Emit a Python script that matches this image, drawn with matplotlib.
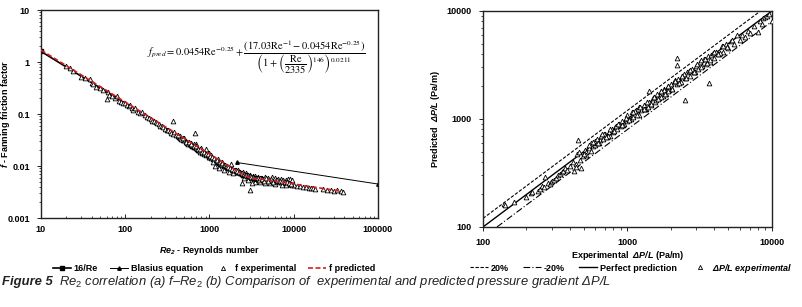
import matplotlib
matplotlib.use('Agg')
import matplotlib.pyplot as plt
from matplotlib.lines import Line2D

plt.rcParams['font.family'] = ['Liberation Sans', 'DejaVu Sans']
plt.rcParams['mathtext.fontset'] = 'custom'
plt.rcParams['mathtext.rm'] = 'Liberation Sans'
plt.rcParams['mathtext.it'] = 'Liberation Sans:italic'
plt.rcParams['mathtext.bf'] = 'Liberation Sans:bold'
plt.rcParams['mathtext.bfit'] = 'Liberation Sans:bold:italic'

# ---- panel (a): friction factor vs Re2 ----
lam_re = [10, 2100]
lam_f = [1.6, 0.0076]
blas_re = [2100, 100000]
blas_f = [0.0117, 0.0045]
pred_re = [10, 100, 1000, 2300, 3000, 5000, 8000, 12000, 20000, 35000]
pred_f = [1.70, 0.170, 0.0170, 0.0074, 0.0059, 0.0054, 0.0048, 0.0043, 0.0038, 0.0033]

exp_re = [20, 22, 24, 30, 33, 38, 40, 42, 45, 50, 55, 60, 62, 65, 70, 75, 80, 85, 90, 95,
          100, 105, 110, 115, 120, 125, 130, 140, 150, 160, 170, 180, 190, 200, 210, 220, 230, 240, 250, 260,
          270, 280, 300, 310, 320, 340, 350, 369, 370, 380, 400, 420, 430, 450, 470, 480, 500, 520, 540, 560,
          580, 600, 620, 640, 660, 673, 680, 700, 720, 740, 760, 780, 800, 820, 850, 870, 900, 920, 950, 980,
          1000, 1050, 1100, 1150, 1200, 1250, 1300, 1350, 1400, 1450, 1500, 1550, 1600, 1650, 1700, 1800, 1900, 2000, 2100, 2200,
          2300, 2400, 2500, 2600, 2800, 3000, 3200, 3400, 3600, 3800, 4000, 4300, 4600, 5000, 5400, 5800, 6200, 6600, 7000, 7500,
          8000, 8500, 9000, 9500, 10000, 11000, 12000, 13000, 14000, 15000, 16000, 17000, 18000, 22000, 25000, 28000, 30000, 33000, 36000, 38000,
          2200, 2500, 2700, 3000, 3300, 3500, 3800, 4200, 4500, 5000, 5500, 6000, 6500, 7000, 7500, 8000, 8500, 9000, 9500, 3500,
          4000, 4500, 5200, 6000, 7200, 8200, 2600, 2900, 2430, 3020, 3200, 1150, 1300, 1500, 1700, 1900, 1100, 1800, 900, 700,
          800, 600, 500, 450, 1000, 650, 750, 850, 950, 1050, 1250, 1400, 1600, 2000, 2300, 2800, 3100, 3700, 4100, 4800]
exp_f = [0.82, 0.76, 0.68, 0.52, 0.50, 0.47, 0.40, 0.38, 0.33, 0.31, 0.29, 0.195, 0.27, 0.23, 0.22, 0.20, 0.22, 0.18, 0.17, 0.16,
         0.16, 0.15, 0.14, 0.15, 0.13, 0.12, 0.13, 0.11, 0.105, 0.11, 0.095, 0.088, 0.085, 0.080, 0.074, 0.072, 0.070, 0.066, 0.065, 0.060,
         0.058, 0.056, 0.052, 0.050, 0.049, 0.047, 0.044, 0.073, 0.042, 0.046, 0.039, 0.037, 0.036, 0.034, 0.033, 0.031, 0.031, 0.030, 0.028, 0.027,
         0.027, 0.025, 0.024, 0.024, 0.023, 0.043, 0.023, 0.022, 0.021, 0.020, 0.020, 0.019, 0.020, 0.018, 0.018, 0.017, 0.017, 0.016, 0.016, 0.015,
         0.015, 0.014, 0.0135, 0.013, 0.0125, 0.012, 0.0115, 0.011, 0.0105, 0.011, 0.0102, 0.0098, 0.0095, 0.0092, 0.009, 0.0086, 0.0082, 0.008, 0.0078, 0.0075,
         0.0072, 0.007, 0.0068, 0.0066, 0.0064, 0.0062, 0.006, 0.0058, 0.0056, 0.0057, 0.0055, 0.0056, 0.0054, 0.0055, 0.0052, 0.0054, 0.0051, 0.005, 0.0049, 0.0048,
         0.0047, 0.0046, 0.0045, 0.0044, 0.0043, 0.0042, 0.0041, 0.004, 0.0039, 0.0038, 0.0037, 0.0037, 0.0036, 0.0036, 0.0035, 0.0034, 0.0033, 0.0034, 0.0033, 0.0032,
         0.0085, 0.0078, 0.0072, 0.0068, 0.0065, 0.0063, 0.0062, 0.006, 0.0062, 0.006, 0.0061, 0.0058, 0.0056, 0.0056, 0.0054, 0.0053, 0.0056, 0.0057, 0.0054, 0.005,
         0.0049, 0.0048, 0.0047, 0.0046, 0.0044, 0.0043, 0.0058, 0.0055, 0.0047, 0.0035, 0.0047, 0.0098, 0.0092, 0.0085, 0.0078, 0.0074, 0.0118, 0.011, 0.021, 0.026,
         0.022, 0.028, 0.035, 0.038, 0.018, 0.026, 0.020, 0.019, 0.017, 0.016, 0.0135, 0.0118, 0.0102, 0.0084, 0.0076, 0.0066, 0.0061, 0.0059, 0.0058, 0.0057]
exp2_re = [420, 460, 490, 530, 570, 610, 650, 690, 730, 770, 810, 860, 910, 960, 1020, 1080, 1120, 1180, 1220, 1280,
           1330, 1380, 1420, 1480, 1530, 1580, 1630, 1680, 1750, 1850, 1950, 2050, 2150, 2250, 2350, 2450, 2550, 2650, 2750, 2850,
           2950, 3050, 3150, 3250, 3350, 3450, 3550, 3650, 3750, 3850, 3950, 4150, 4400, 4700, 4900, 5300, 5600, 6100, 6400, 6800,
           7300, 7800, 8300, 8800, 9300]
exp2_f = [0.040, 0.033, 0.034, 0.029, 0.029, 0.026, 0.024, 0.024, 0.021, 0.021, 0.019, 0.019, 0.017, 0.017, 0.0155, 0.015, 0.014, 0.013, 0.013, 0.012,
          0.012, 0.011, 0.0112, 0.0104, 0.0103, 0.0098, 0.0098, 0.0094, 0.0091, 0.0088, 0.0084, 0.0082, 0.0079, 0.0077, 0.0074, 0.0073, 0.0071, 0.0068, 0.0067, 0.0066,
          0.0064, 0.0063, 0.0062, 0.0061, 0.006, 0.0059, 0.0058, 0.0060, 0.0058, 0.0055, 0.0059, 0.0057, 0.0052, 0.0058, 0.0051, 0.0057, 0.0050, 0.0055, 0.0053, 0.0052,
          0.0051, 0.0050, 0.0049, 0.0047, 0.0046]

# ---- panel (b): predicted vs experimental pressure gradient ----
line_x = [100, 10000]
perfect_y = [100, 10000]
plus_x = [100, 8333]
plus_y = [120, 10000]
minus_x = [125, 10000]
minus_y = [100, 8000]

dp_exp = [140, 142, 165, 200, 215, 220, 240, 250, 255, 265, 270, 280, 290, 295, 300, 310, 320, 330, 340, 350,
          360, 370, 380, 400, 420, 430, 440, 440, 450, 454, 470, 480, 490, 500, 510, 520, 520, 540, 560, 580,
          600, 600, 620, 650, 660, 680, 700, 720, 750, 760, 780, 800, 820, 850, 870, 900, 920, 950, 980, 1000,
          1000, 1050, 1080, 1100, 1150, 1200, 1200, 1250, 1300, 1350, 1400, 1410, 1450, 1500, 1550, 1600, 1650, 1700, 1750, 1800,
          1850, 1900, 1950, 2000, 2050, 2100, 2200, 2200, 2200, 2250, 2300, 2400, 2500, 2500, 2600, 2700, 2800, 2900, 3000, 3100,
          3200, 3300, 3400, 3500, 3665, 3600, 3700, 3800, 4000, 4100, 4300, 4500, 4600, 4800, 5000, 5200, 5500, 5700, 6000, 6200,
          6500, 6800, 7000, 7500, 8000, 8300, 8500, 8700, 9000, 9300, 9500, 10000, 560, 640, 730, 830, 930, 1130, 1320, 1520,
          1720, 1920, 2150, 2350, 2650, 2950, 3250, 3550, 3900, 4400, 620, 690, 790, 880, 1020, 1180, 1380, 1580, 1780, 2450]
dp_pred = [165, 160, 170, 190, 205, 210, 215, 225, 240, 235, 290, 255, 250, 262, 265, 270, 285, 300, 310, 320,
           330, 350, 340, 370, 400, 330, 385, 360, 470, 640, 420, 350, 450, 480, 520, 490, 460, 540, 510, 560,
           620, 570, 600, 640, 700, 650, 720, 680, 760, 700, 800, 760, 850, 800, 900, 860, 950, 900, 1000, 950,
           1100, 1000, 1150, 1050, 1200, 1100, 1300, 1200, 1350, 1250, 1450, 1820, 1350, 1550, 1450, 1700, 1550, 1800, 1650, 1900,
           1700, 2000, 1850, 2100, 1900, 2200, 3670, 3160, 2100, 2350, 2200, 2500, 1500, 2400, 2700, 2500, 2900, 2700, 3100, 2900,
           3400, 3100, 3600, 3200, 2150, 3800, 3400, 3900, 3700, 4200, 4000, 4700, 4200, 5000, 4500, 5300, 5000, 6000, 5400, 6000,
           5800, 6500, 6200, 7200, 6400, 8000, 7500, 8600, 8800, 9000, 9300, 8075, 600, 600, 700, 870, 880, 1180, 1250, 1600,
           1600, 1800, 2300, 2200, 2800, 2700, 3500, 3300, 4100, 4100, 650, 720, 770, 900, 1000, 1250, 1300, 1500, 1850, 2600]
dp2_exp = [460, 500, 540, 580, 630, 670, 710, 760, 810, 860, 910, 970, 1030, 1090, 1160, 1230, 1300, 1370, 1450, 1530,
           1620, 1710, 1810, 1910, 2020, 2130, 2260, 2400, 2550, 2700, 2870, 3050, 3250, 3450, 3700, 3950, 4250, 4550, 4900, 5300]
dp2_pred = [500, 470, 570, 610, 600, 720, 680, 800, 780, 900, 880, 1020, 980, 1150, 1100, 1290, 1230, 1440, 1380, 1600,
            1530, 1800, 1700, 2000, 1900, 2250, 2150, 2500, 2400, 2850, 2700, 3200, 3050, 3600, 3500, 4150, 4000, 4750, 4600, 5400]

fig = plt.figure(figsize=(8.02, 3.07), dpi=100)
ax1 = fig.add_axes([0.0511, 0.2899, 0.4202, 0.6775])
ax2 = fig.add_axes([0.6022, 0.2606, 0.3603, 0.7036])

for ax in (ax1, ax2):
    ax.set_xscale('log')
    ax.set_yscale('log')
    for s in ax.spines.values():
        s.set_linewidth(1.0)
        s.set_color('#222222')
    ax.tick_params(which='major', labelsize=6.5, length=3, width=0.6, pad=5)
    ax.tick_params(which='minor', length=1.8, width=0.5)
ax1.tick_params(axis='x', which='both', direction='in')

tri = dict(ls='none', marker='^', ms=3.4, mfc='white', mec='black', mew=0.6, zorder=3)

# panel (a)
ax1.plot(lam_re, lam_f, color='black', lw=1.2, marker='s', ms=2.5, zorder=2)
ax1.plot(blas_re, blas_f, color='black', lw=0.7, marker='^', ms=2.5, zorder=2)
ax1.plot(exp_re, exp_f, **tri)
ax1.plot(exp2_re, exp2_f, **tri)
ax1.plot(pred_re, pred_f, color='#d42020', lw=1.2, ls=(0, (3, 1.5)), zorder=4)
ax1.set_xlim(10, 100000)
ax1.set_ylim(0.001, 10)
ax1.set_xticks([10, 100, 1000, 10000, 100000])
ax1.set_xticklabels(['10', '100', '1000', '10000', '100000'], fontweight='bold')
ax1.set_yticks([0.001, 0.01, 0.1, 1, 10])
ax1.set_yticklabels(['0.001', '0.01', '0.1', '1', '10'], fontweight='bold')
ax1.set_xlabel(r'$\mathbfit{Re}_\mathbfit{2}$ - Reynolds number', fontsize=6.5, fontweight='bold')
ax1.xaxis.set_label_coords(0.5, -0.125)
ax1.set_ylabel(r'$\mathbfit{f}$ - Fanning friction factor', fontsize=6.5, fontweight='bold')
ax1.yaxis.set_label_coords(-0.085, 0.5)
eq = (r'$f_{pred} = 0.0454\mathrm{Re}^{-0.25} + '
      r'\dfrac{\left(17.03\mathrm{Re}^{-1} - 0.0454\mathrm{Re}^{-0.25}\right)}'
      r'{\left(1+\left(\dfrac{\mathrm{Re}}{2335}\right)^{146}\right)^{0.0211}}$')
ax1.text(0.64, 0.775, eq, transform=ax1.transAxes, fontsize=7.5, ha='center', va='center',
         math_fontfamily='stix')

# panel (b)
ax2.plot(minus_x, minus_y, color='black', lw=0.8, ls=(0, (6, 2, 1, 2)), zorder=2)
ax2.plot(plus_x, plus_y, color='black', lw=0.8, ls=(0, (3, 1.5)), zorder=2)
ax2.plot(line_x, perfect_y, color='black', lw=1.0, zorder=2)
ax2.plot(dp_exp, dp_pred, **tri)
ax2.plot(dp2_exp, dp2_pred, **tri)
ax2.set_xlim(100, 10000)
ax2.set_ylim(100, 10000)
ax2.set_xticks([100, 1000, 10000])
ax2.set_xticklabels(['100', '1000', '10000'], fontweight='bold')
ax2.set_yticks([100, 1000, 10000])
ax2.set_yticklabels(['100', '1000', '10000'], fontweight='bold')
ax2.set_xlabel(r'Experimental  $\mathbfit{\Delta P/L}$ (Pa/m)', fontsize=6.5, fontweight='bold')
ax2.xaxis.set_label_coords(0.5, -0.103)
ax2.set_ylabel(r'Predicted  $\mathbfit{\Delta P/L}$ (Pa/m)', fontsize=6.5, fontweight='bold')
ax2.yaxis.set_label_coords(-0.142, 0.5)

# legends
h1 = [Line2D([], [], color='black', lw=1.2, marker='s', ms=2.5),
      Line2D([], [], color='black', lw=0.7, marker='^', ms=2.5),
      Line2D([], [], ls='none', marker='^', ms=3, mfc='white', mec='black', mew=0.6),
      Line2D([], [], color='#d42020', lw=1.2, ls=(0, (3, 1.5)))]
fig.legend(h1, ['16/Re', 'Blasius equation', 'f experimental', 'f predicted'],
           loc='center', bbox_to_anchor=(0.267, 0.124), ncol=4, frameon=False,
           prop={'size': 6.5, 'weight': 'bold'}, handlelength=2.0, handletextpad=0.3, columnspacing=1.3)
h2 = [Line2D([], [], color='black', lw=0.8, ls=(0, (3, 1.5))),
      Line2D([], [], color='black', lw=0.8, ls=(0, (6, 2, 1, 2))),
      Line2D([], [], color='black', lw=1.0),
      Line2D([], [], ls='none', marker='^', ms=3, mfc='white', mec='black', mew=0.6)]
fig.legend(h2, ['20%', '-20%', 'Perfect prediction', r'$\mathbfit{\Delta P/L\ experimental}$'],
           loc='center', bbox_to_anchor=(0.787, 0.127), ncol=4, frameon=False,
           prop={'size': 6.5, 'weight': 'bold'}, handlelength=2.0, handletextpad=0.3, columnspacing=1.6)

# caption
fig.text(0.002, 0.081, 'Figure 5', fontsize=9.4, fontweight='bold', style='italic', color='#222222', va='center')
fig.text(0.073, 0.081, r'Re$_\mathit{2}$ correlation (a) f–Re$_\mathit{2}$ (b) Comparison of  experimental and predicted pressure gradient ΔP/L',
         fontsize=9.4, style='italic', color='#222222', va='center')

fig.savefig('out.png', dpi=100)
